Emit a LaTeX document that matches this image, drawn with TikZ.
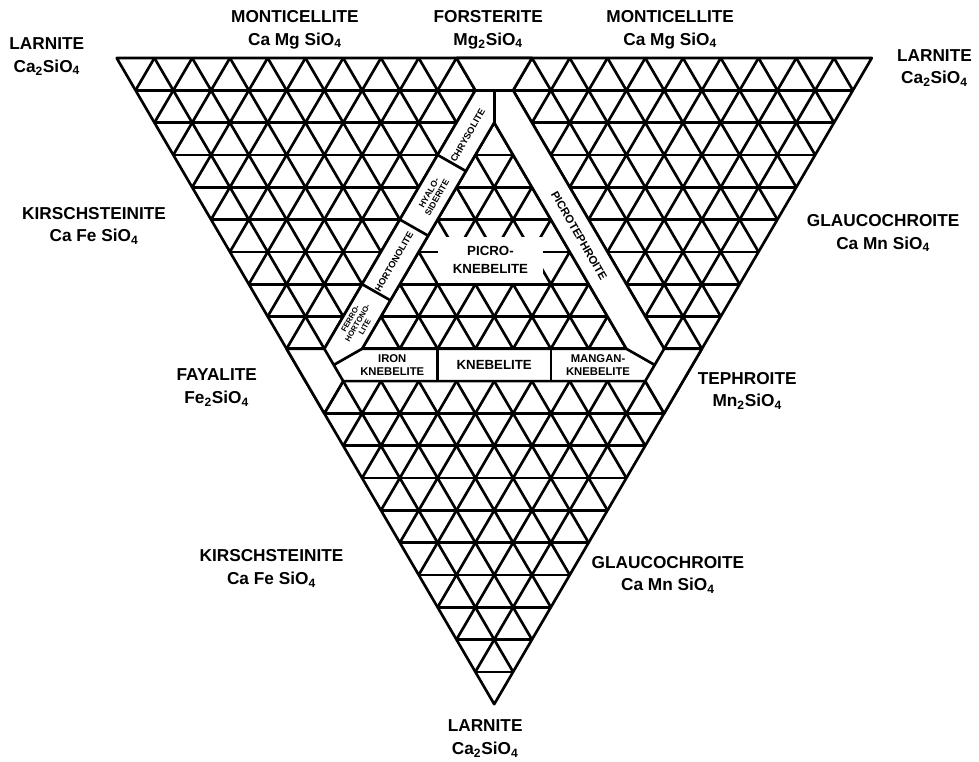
\documentclass[tikz,border=0pt]{standalone}
\usepackage{fontspec}
\setmainfont{Liberation Sans}
\begin{document}
\begin{tikzpicture}[x=1cm,y=0.8557cm,line width=2pt,line join=round,
  mineral/.style={font=\fontsize{13}{17}\selectfont\bfseries,align=center,inner sep=0pt},
  field/.style={font=\fontsize{7}{7.5}\selectfont\bfseries,align=center,inner sep=0pt}]
  \useasboundingbox (-3.09,1.796) rectangle (22.84,-21.76);
  % lattice of the whole net
  \foreach \r in {1,...,19} \draw (\r/2,-\r) -- (20-\r/2,-\r);
  \foreach \k in {1,...,19} {
    \draw (\k,0) -- ({\k+(20-\k)/2},{-(20-\k)});
    \draw (\k,0) -- (\k/2,-\k);
  }
  \draw (0,0) -- (20,0) -- (10,-20) -- cycle;
  % olivine fields
  \fill[white,even odd rule] (9,0) -- (11,0) -- (10.5,-1) -- (14.5,-9) -- (15.5,-9) -- (15,-10)
    -- (14.5,-11) -- (14,-10) -- (6,-10) -- (5.5,-11) -- (5,-10) -- (4.5,-9) -- (5.5,-9)
    -- (9.5,-1) -- cycle (10,-2) -- (6.5,-9) -- (13.5,-9) -- cycle;
  \draw (9,0) -- (11,0) -- (10.5,-1) -- (14.5,-9) -- (15.5,-9) -- (15,-10)
    -- (14.5,-11) -- (14,-10) -- (6,-10) -- (5.5,-11) -- (5,-10) -- (4.5,-9) -- (5.5,-9)
    -- (9.5,-1) -- cycle;
  \draw (10,-2) -- (6.5,-9) -- (13.5,-9) -- cycle;
  \draw (9.5,-1) -- (10.5,-1) (10,-1) -- (10,-2);
  \foreach \r in {3,5,7} \draw (10-\r/2,-\r) -- (10.75-\r/2,-\r-0.5);
  \draw (5.5,-9) -- (6,-10) (5.75,-9.5) -- (6.5,-9);
  \draw (14.5,-9) -- (14,-10) (14.25,-9.5) -- (13.5,-9);
  \draw (8.5,-9) -- (8.5,-10) (11.5,-9) -- (11.5,-10);
  % field names
  \node[field,rotate=60] (chrys) at (9.3,-2.4) {CHRYSOLITE};
  \node[field,rotate=60,font=\fontsize{6.5}{7}\selectfont\bfseries] (hyalo) at (8.38,-4.25) {HYALO-\\SIDERITE};
  \node[field,rotate=60] (horto) at (7.35,-6.3) {HORTONOLITE};
  \node[field,rotate=60,font=\fontsize{5.8}{6.3}\selectfont\bfseries] (ferro) at (6.38,-8.2) {FERRO-\\HORTONO-\\LITE};
  \node[field,rotate=-60,font=\fontsize{8.5}{9}\selectfont\bfseries] (picroteph) at (12.25,-5.5) {PICROTEPHROITE};
  \node[field,font=\fontsize{8.5}{10}\selectfont\bfseries] (ironkn) at (7.3,-9.5) {IRON\\KNEBELITE};
  \node[field,font=\fontsize{10}{12}\selectfont\bfseries] (kneb) at (10,-9.5) {KNEBELITE};
  \node[field,font=\fontsize{8.5}{10}\selectfont\bfseries] (mangkn) at (12.75,-9.5) {MANGAN-\\KNEBELITE};
  \node[field,font=\fontsize{10}{13}\selectfont\bfseries,fill=white,minimum width=2.8cm,minimum height=1.2cm] (picrokn) at (9.9,-6.25) {PICRO-\\KNEBELITE};
  % end members
  \node[mineral] (larTL) at (-1.85,0.05) {LARNITE\\Ca\textsubscript{2}SiO\textsubscript{4}};
  \node[mineral] (montL) at (4.72,0.88) {MONTICELLITE\\Ca Mg SiO\textsubscript{4}};
  \node[mineral] (forst) at (9.84,0.88) {FORSTERITE\\Mg\textsubscript{2}SiO\textsubscript{4}};
  \node[mineral] (montR) at (14.66,0.88) {MONTICELLITE\\Ca Mg SiO\textsubscript{4}};
  \node[mineral] (larTR) at (21.66,-0.31) {LARNITE\\Ca\textsubscript{2}SiO\textsubscript{4}};
  \node[mineral] (kirU) at (-0.6,-5.2) {KIRSCHSTEINITE\\Ca Fe SiO\textsubscript{4}};
  \node[mineral] (glauU) at (20.3,-5.42) {GLAUCOCHROITE\\Ca Mn SiO\textsubscript{4}};
  \node[mineral] (fay) at (2.65,-10.2) {FAYALITE\\Fe\textsubscript{2}SiO\textsubscript{4}};
  \node[mineral] (teph) at (16.7,-10.3) {TEPHROITE\\Mn\textsubscript{2}SiO\textsubscript{4}};
  \node[mineral] (kirL) at (4.1,-15.8) {KIRSCHSTEINITE\\Ca Fe SiO\textsubscript{4}};
  \node[mineral] (glauL) at (14.6,-16.0) {GLAUCOCHROITE\\Ca Mn SiO\textsubscript{4}};
  \node[mineral] (larB) at (9.76,-21.07) {LARNITE\\Ca\textsubscript{2}SiO\textsubscript{4}};
\end{tikzpicture}
\end{document}
